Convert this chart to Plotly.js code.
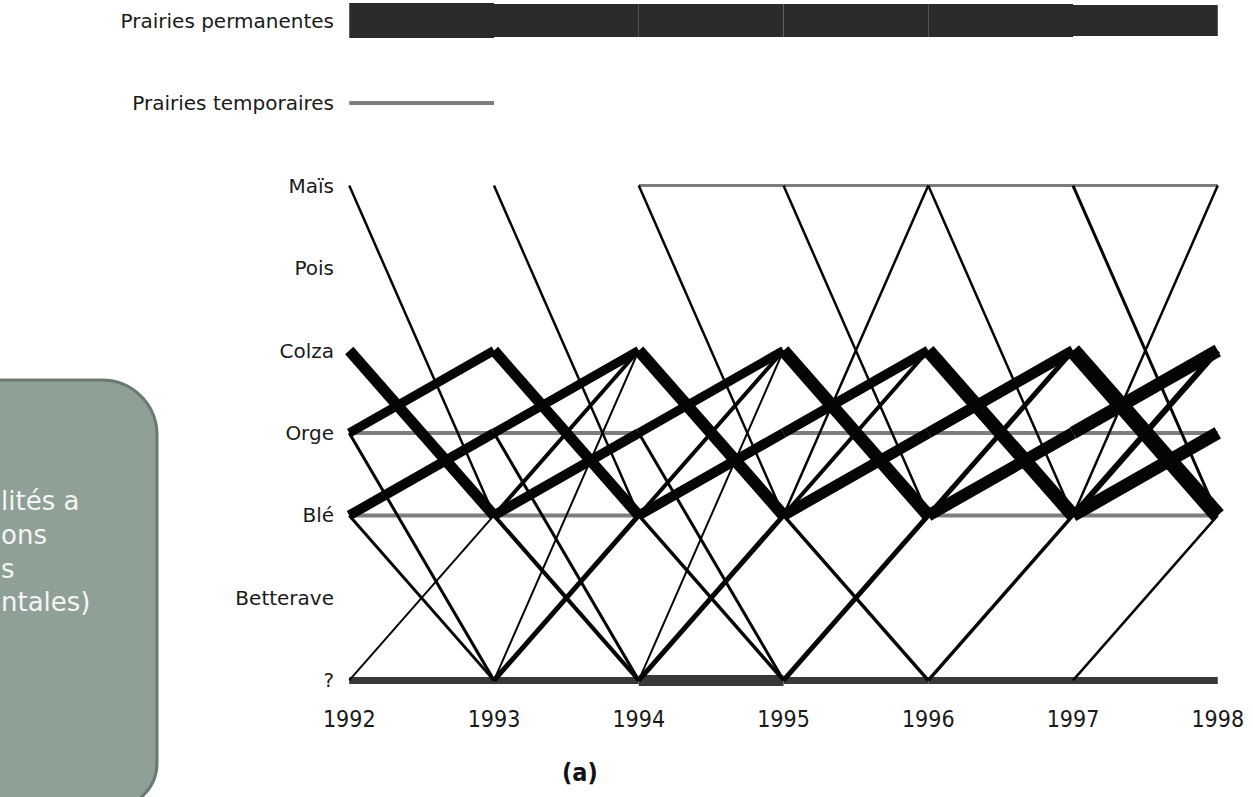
<!DOCTYPE html>
<html><head><meta charset="utf-8">
<script src="https://cdn.plot.ly/plotly-3.0.1.min.js"></script>
<style>html,body{margin:0;padding:0;background:#fff;overflow:hidden}#chart{width:1253px;height:797px}</style>
</head><body><div id="chart"></div>
<script>
// Crop categories (top to bottom) and years
const categories = ["Prairies permanentes","Prairies temporaires","Maïs","Pois","Colza","Orge","Blé","Betterave","?"];
const years = [1992,1993,1994,1995,1996,1997,1998];

// Transitions: start year, crop in that year, crop the following year, relative frequency
const linkYear = [
 1992,1992,1992,1992,1992,1992,1992,1992,1992,1992,1992,1992,
 1993,1993,1993,1993,1993,1993,1993,1993,1993,1993,1993,1993,1993,
 1994,1994,1994,1994,1994,1994,1994,1994,1994,1994,1994,1994,
 1995,1995,1995,1995,1995,1995,1995,1995,1995,1995,1995,1995,
 1996,1996,1996,1996,1996,1996,1996,1996,1996,1996,1996,
 1997,1997,1997,1997,1997,1997,1997,1997,1997,1997,1997,1997
];
const linkFrom = [
 "Prairies permanentes","Prairies temporaires","Orge","Blé","?","Maïs","Colza","Orge","Orge","Blé","Blé","?",
 "Prairies permanentes","Orge","Blé","?","Maïs","Colza","Orge","Orge","Blé","Blé","Blé","?","?",
 "Prairies permanentes","Maïs","?","Maïs","Colza","Orge","Orge","Blé","Blé","Blé","?","?",
 "Prairies permanentes","Maïs","Orge","?","Maïs","Colza","Orge","Blé","Blé","Blé","Blé","?",
 "Prairies permanentes","Maïs","Orge","Blé","?","Maïs","Colza","Orge","Blé","Blé","?",
 "Prairies permanentes","Maïs","Orge","Blé","?","Maïs","Colza","Orge","Blé","Blé","Blé","?"
];
const linkTo = [
 "Prairies permanentes","Prairies temporaires","Orge","Blé","?","Blé","Blé","Colza","?","Orge","?","Blé",
 "Prairies permanentes","Orge","Blé","?","Blé","Blé","Colza","?","Orge","Colza","?","Colza","Blé",
 "Prairies permanentes","Maïs","?","Blé","Blé","Colza","?","Orge","Colza","?","Colza","Blé",
 "Prairies permanentes","Maïs","Orge","?","Blé","Blé","Colza","Orge","Colza","Maïs","?","Blé",
 "Prairies permanentes","Maïs","Orge","Blé","?","Blé","Blé","Colza","Orge","Colza","Blé",
 "Prairies permanentes","Maïs","Orge","Blé","?","Blé","Blé","Colza","Orge","Colza","Maïs","Blé"
];
const linkValue = [
 70,8,8,8,14,5,22,18,6,20,6,4,
 66,8,8,14,5,22,18,6,20,8,8,4,10,
 66,6,22,5,24,18,6,20,8,7,4,10,
 66,6,8,14,5,26,20,22,8,5,7,10,
 66,6,8,8,14,5,28,22,24,10,7,
 62,6,8,8,14,6,32,26,26,12,5,5
];
const boxLines = ["lités a","ons","s","ntales)"];
const panelLabel = "(a)";

const W = 0.5; // px of stroke per unit of frequency
const selfColor = {"Prairies permanentes":"#2b2b2b","?":"#383838"};
const gray = [], black = [];
for (let i = 0; i < linkYear.length; i++) {
  const self = linkFrom[i] === linkTo[i];
  const tr = {
    type: "scatter", mode: "lines",
    x: [linkYear[i], linkYear[i] + 1],
    y: [linkFrom[i], linkTo[i]],
    line: {color: self ? (selfColor[linkFrom[i]] || "#7e7e7e") : "#050505", width: linkValue[i] * W},
    hoverinfo: "skip", showlegend: false
  };
  (self ? gray : black).push(tr);
}

const L = 342, PW = 883, PH = 701;
const fx = p => (p - L) / PW;
const fy = p => 1 - p / PH;
function boxPath(x0, x1, y0, y1, rT, rB) {
  const k = 0.5523;
  const P = (x, y) => fx(x).toFixed(5) + "," + fy(y).toFixed(5);
  return "M" + P(x0, y0) + " L" + P(x1 - rT, y0) +
    " C" + P(x1 - rT + k * rT, y0) + " " + P(x1, y0 + rT - k * rT) + " " + P(x1, y0 + rT) +
    " L" + P(x1, y1 - rB) +
    " C" + P(x1, y1 - rB + k * rB) + " " + P(x1 - rB + k * rB, y1) + " " + P(x1 - rB, y1) +
    " L" + P(x0, y1) + " Z";
}
const annotations = [{
  xref: "paper", yref: "paper", x: fx(-1), y: fy(551), xanchor: "left", yanchor: "middle", align: "left",
  text: boxLines.join("<br>"), showarrow: false, font: {family: "DejaVu Sans", size: 26, color: "#f5f5f5"}
}, {
  xref: "paper", yref: "paper", x: fx(580), y: fy(772), xanchor: "center", yanchor: "middle",
  text: "<b>" + panelLabel + "</b>", showarrow: false,
  font: {family: "DejaVu Sans Condensed, DejaVu Sans", size: 25, color: "#111"}
}];

const layout = {
  width: 1253, height: 797,
  margin: {l: L, r: 1253 - L - PW, t: 0, b: 797 - PH},
  paper_bgcolor: "#ffffff", plot_bgcolor: "#ffffff",
  xaxis: {range: [1991.95, 1998.05], tickvals: years, ticktext: years.map(String),
    showgrid: false, zeroline: false, showline: false, ticks: "", ticklabelstandoff: 2,
    tickfont: {family: "DejaVu Sans Condensed, DejaVu Sans", size: 23, color: "#1a1a1a"}},
  yaxis: {type: "category", categoryorder: "array", categoryarray: categories.slice().reverse(),
    range: [-0.25, 8.25], showgrid: false, zeroline: false, showline: false, ticks: "", ticklabelstandoff: 7,
    tickfont: {family: "DejaVu Sans", size: 20, color: "#1a1a1a"}},
  shapes: [{type: "path", xref: "paper", yref: "paper", path: boxPath(-20, 157, 380, 808, 55, 45),
    fillcolor: "#8fa096", line: {color: "#6b7a70", width: 3}, layer: "above"}],
  annotations: annotations
};
Plotly.newPlot("chart", gray.concat(black), layout, {staticPlot: true, displayModeBar: false});
</script></body></html>
